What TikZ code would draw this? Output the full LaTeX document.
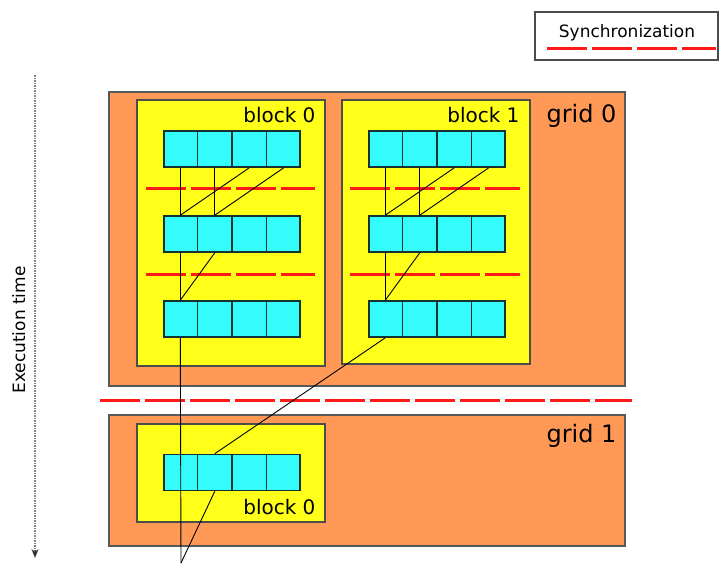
\documentclass[tikz,border=0pt]{standalone}
\usepackage{fontspec}
\setmainfont{DejaVu Sans}
\usetikzlibrary{shapes.multipart, arrows.meta, positioning, calc}

\definecolor{gridorange}{HTML}{FF9955}
\definecolor{blockyellow}{HTML}{FFFF1A}
\definecolor{threadcyan}{HTML}{35FCFC}
\definecolor{threadedge}{HTML}{143232}
\definecolor{syncred}{HTML}{FF1A1A}

\begin{document}
\begin{tikzpicture}[
    x=1pt, y=-1pt,
    >=Stealth,
    gridbox/.style={draw=black!65, fill=gridorange, line width=1.4pt, minimum width=516pt},
    blockbox/.style={draw=black!70, fill=blockyellow, line width=1.4pt, minimum width=188pt},
    warp/.style={rectangle split, rectangle split horizontal, rectangle split parts=4,
        draw=threadedge, fill=threadcyan, line width=1.6pt, inner xsep=13.7pt, inner ysep=0pt, minimum height=36pt},
    gridlabel/.style={anchor=base east, font=\fontsize{24}{28}\selectfont},
    blocklabel/.style={anchor=base east, font=\fontsize{20}{24}\selectfont},
    smalllabel/.style={font=\fontsize{17}{20}\selectfont},
    sync/.style={draw=syncred, line width=3pt, dash pattern=on 40pt off 5pt},
    wire/.style={draw=black, line width=0.9pt},
    timeline/.style={draw=black!50, line width=2.2pt, dash pattern=on 1.5pt off 1pt}
]
\useasboundingbox (0,0) rectangle (722,565);

% -------------------------------------------------------------------------
% Legend (top right)
% -------------------------------------------------------------------------
\node[draw=black!70, line width=1.2pt, minimum width=183pt, minimum height=48pt] (legend) at (626.5,36) {};
\node[smalllabel, anchor=base] (legendtxt) at (627,37) {Synchronization};
\draw[sync] ([xshift=13pt, yshift=12pt]legend.south west) -- ([xshift=-3pt, yshift=12pt]legend.south east);

% -------------------------------------------------------------------------
% Execution time axis (left)
% -------------------------------------------------------------------------
\coordinate (tstart) at (35,75);
\coordinate (tend) at (35,558);
\draw[timeline] (tstart) -- ([yshift=6pt]tend);
\draw[-{Stealth[length=9pt, width=7pt]}, black!80, line width=1pt] ([yshift=8pt]tend) -- (tend);
\node[smalllabel, rotate=90, anchor=base] (timelabel) at (25,330) {Execution time};

% -------------------------------------------------------------------------
% Grids and blocks
% -------------------------------------------------------------------------
\node[gridbox, minimum height=294pt] (G0) at (367,239) {};
\node[gridbox, minimum height=131pt] (G1) at (367,480.5) {};
\node[gridlabel] (G0label) at (620,122) {grid 0};
\node[gridlabel] (G1label) at (620,442) {grid 1};

\node[blockbox, minimum height=266pt] (B00) at (231,233) {};
\node[blockbox, minimum height=264pt] (B01) at (436,232) {};
\node[blockbox, minimum height=98pt] (B10) at (231,473) {};
\node[blocklabel] (B00label) at (319,122) {block 0};
\node[blocklabel] (B01label) at (523,122) {block 1};
\node[blocklabel] (B10label) at (319,514) {block 0};

% Thread rows
\node[warp] (B00r1) at (232,149) {};
\node[warp] (B00r2) at (232,234) {};
\node[warp] (B00r3) at (232,319) {};
\node[warp] (B01r1) at (437,149) {};
\node[warp] (B01r2) at (437,234) {};
\node[warp] (B01r3) at (437,319) {};
\node[warp] (B10r1) at (232,472.5) {};

% -------------------------------------------------------------------------
% Synchronization barriers
% -------------------------------------------------------------------------
\draw[sync] (146,188) -- (315,188);
\draw[sync] (146,274) -- (315,274);
\draw[sync] (350,188) -- (520,188);
\draw[sync] (350,274) -- (520,274);
\draw[sync] (100,400) -- (632,400);

% -------------------------------------------------------------------------
% Data flow between threads
% -------------------------------------------------------------------------
\coordinate (join) at (181,563);

% block 0 of grid 0
\draw[wire] (B00r1.one south) -- (B00r2.one north);
\draw[wire] (B00r1.two south) -- (B00r2.two north);
\draw[wire] (B00r1.three south) -- (B00r2.one north);
\draw[wire] (B00r1.four south) -- (B00r2.two north);
\draw[wire] (B00r2.one south) -- (B00r3.one north);
\draw[wire] (B00r2.two south) -- (B00r3.one north);

% block 1 of grid 0
\draw[wire] (B01r1.one south) -- (B01r2.one north);
\draw[wire] (B01r1.two south) -- (B01r2.two north);
\draw[wire] (B01r1.three south) -- (B01r2.one north);
\draw[wire] (B01r1.four south) -- (B01r2.two north);
\draw[wire] (B01r2.one south) -- (B01r3.one north);
\draw[wire] (B01r2.two south) -- (B01r3.one north);

% grid 0 to grid 1
\draw[wire] (B00r3.one south) -- (join);
\draw[wire] (B01r3.one south) -- (B10r1.two north);
\draw[wire] (B10r1.two south) -- (join);

\end{tikzpicture}
\end{document}
